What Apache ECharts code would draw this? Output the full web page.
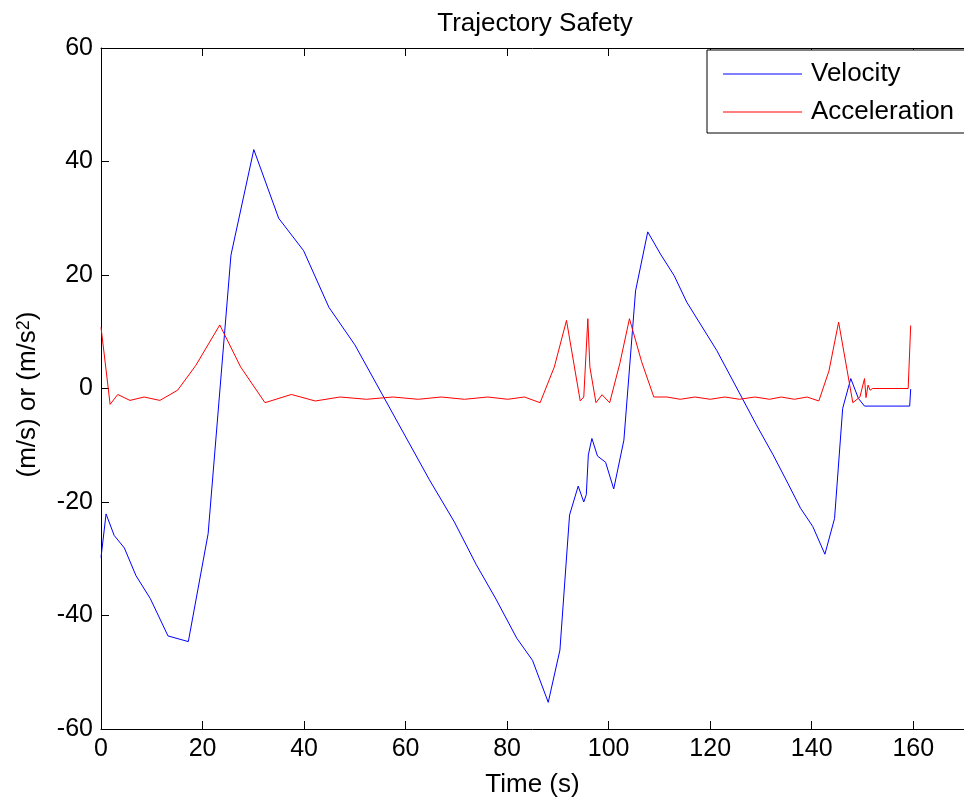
<!DOCTYPE html>
<html>
<head>
<meta charset="utf-8">
<script src="https://cdn.jsdelivr.net/npm/echarts@6/dist/echarts.min.js"></script>
<style>html,body{margin:0;padding:0;background:#fff;}#c{width:964px;height:803px;}</style>
</head>
<body>
<div id="c"></div>
<script>
var velT = [0, 1.0, 2.6, 4.6, 6.9, 9.7, 13.2, 17.2, 21.1, 25.6, 30.1, 35.0, 39.9, 44.9, 50.0, 64.7, 69.6, 73.9, 77.8, 81.9, 85.0, 88.1, 90.4, 92.3, 94.0, 95.1, 95.6, 96.0, 96.7, 97.8, 99.4, 101.0, 103.0, 105.3, 107.7, 110.2, 112.9, 115.4, 121.3, 129.1, 132.4, 135.3, 137.8, 140.2, 142.6, 144.5, 146.1, 147.7, 149.2, 150.4, 159.3, 159.5, 159.5];
var velV = [-29.8, -22.1, -25.9, -28.1, -33.0, -37.0, -43.6, -44.6, -25.6, 23.5, 42.1, 30.0, 24.3, 14.3, 7.7, -16.1, -23.5, -31.0, -37.1, -44.0, -47.9, -55.3, -46.1, -22.3, -17.2, -20.0, -18.7, -11.7, -8.8, -11.9, -13.0, -17.7, -9.1, 17.2, 27.6, 23.7, 19.9, 15.2, 6.7, -6.4, -11.7, -16.7, -21.1, -24.3, -29.2, -22.9, -3.5, 1.75, -1.75, -3.1, -3.1, -2.8, -0.1];
var accT = [0, 1.8, 3.3, 5.7, 8.5, 11.6, 15.1, 18.7, 23.4, 27.5, 32.3, 37.5, 42.2, 47.1, 52.3, 57.5, 62.5, 67.0, 71.6, 76.2, 80.1, 83.4, 86.5, 89.3, 91.7, 94.4, 95.1, 95.9, 96.3, 97.5, 98.7, 100.2, 102.2, 104.1, 106.5, 108.9, 111.5, 114.1, 117.0, 120.0, 122.9, 125.8, 128.8, 131.7, 134.0, 136.6, 139.1, 141.4, 143.4, 145.3, 148.1, 149.5, 150.4, 150.7, 151.1, 151.5, 152.0, 159.0, 159.5];
var accV = [10.8, -2.8, -1.05, -2.1, -1.5, -2.1, -0.3, 4.1, 11.2, 3.8, -2.5, -1.05, -2.2, -1.5, -1.9, -1.5, -1.9, -1.5, -1.9, -1.5, -1.9, -1.5, -2.5, 3.8, 12.0, -2.2, -1.5, 12.3, 3.8, -2.5, -1.1, -2.5, 4.4, 12.3, 4.7, -1.5, -1.5, -1.9, -1.5, -1.9, -1.5, -1.9, -1.5, -1.9, -1.5, -1.9, -1.5, -2.2, 3.1, 11.7, -2.5, -1.5, 1.75, -1.6, 0.6, -0.3, 0, 0, 11.1];
var seriesNames = ['Velocity', 'Acceleration'];
var titleText = 'Trajectory Safety';
var xName = 'Time (s)';
var yName = '(m/s) or (m/s{sup|2})';

function pairs(t, v) { return t.map(function (x, i) { return [x, v[i]]; }); }

var FONT = '"Liberation Sans", Arial, sans-serif';
var chart = echarts.init(document.getElementById('c'), null, {renderer: 'canvas'});
var axLine = {show: true, onZero: false, lineStyle: {color: '#000', width: 1}};
var tick = {inside: true, length: 8, lineStyle: {color: '#000'}};
chart.setOption({
  animation: false,
  backgroundColor: '#fff',
  title: {
    text: titleText, left: 530, top: 6, textAlign: 'center',
    textStyle: {fontFamily: FONT, fontSize: 26, fontWeight: 'normal', color: '#000'}
  },
  grid: {left: 101, top: 48, width: 867, height: 684, containLabel: false},
  legend: {
    orient: 'vertical', left: 707, top: 50,
    itemWidth: 79, itemHeight: 26, itemGap: 12,
    padding: [11, 12, 8, 16],
    icon: 'path://M0,0 L79,0 L79,1 L0,1 Z',
    borderColor: '#000', borderWidth: 1, backgroundColor: '#fff',
    textStyle: {fontFamily: FONT, fontSize: 26, color: '#000', padding: [0, 0, 0, 4]},
    data: seriesNames
  },
  xAxis: [{
    type: 'value', min: 0, max: 170, interval: 20, position: 'bottom',
    name: xName, nameLocation: 'middle', nameGap: 43,
    nameTextStyle: {fontFamily: FONT, fontSize: 26, color: '#000'},
    axisLine: axLine, axisTick: tick,
    axisLabel: {fontFamily: FONT, fontSize: 25, color: '#000', margin: 8, showMaxLabel: false},
    splitLine: {show: false}
  }, {
    type: 'value', min: 0, max: 170, interval: 20, position: 'top',
    axisLine: axLine, axisTick: tick,
    axisLabel: {show: false}, splitLine: {show: false}
  }],
  yAxis: [{
    type: 'value', min: -60, max: 60, interval: 20, position: 'left',
    name: yName, nameLocation: 'middle', nameGap: 60, nameRotate: 90,
    nameTextStyle: {fontFamily: FONT, fontSize: 26, color: '#000', padding: [0, 12, 0, 0],
      rich: {sup: {fontFamily: FONT, fontSize: 18, color: '#000', verticalAlign: 'top', lineHeight: 18, padding: [0, 0, 10, 0]}}},
    axisLine: axLine, axisTick: tick,
    axisLabel: {fontFamily: FONT, fontSize: 25, color: '#000', margin: 8},
    splitLine: {show: false}
  }],
  series: [{
    name: seriesNames[0], type: 'line', symbol: 'none', xAxisIndex: 0, yAxisIndex: 0,
    lineStyle: {color: '#0000ff', width: 1}, itemStyle: {color: '#0000ff'},
    data: pairs(velT, velV)
  }, {
    name: seriesNames[1], type: 'line', symbol: 'none', xAxisIndex: 0, yAxisIndex: 0,
    lineStyle: {color: '#ff0000', width: 1}, itemStyle: {color: '#ff0000'},
    data: pairs(accT, accV)
  }]
});
</script>
</body>
</html>
